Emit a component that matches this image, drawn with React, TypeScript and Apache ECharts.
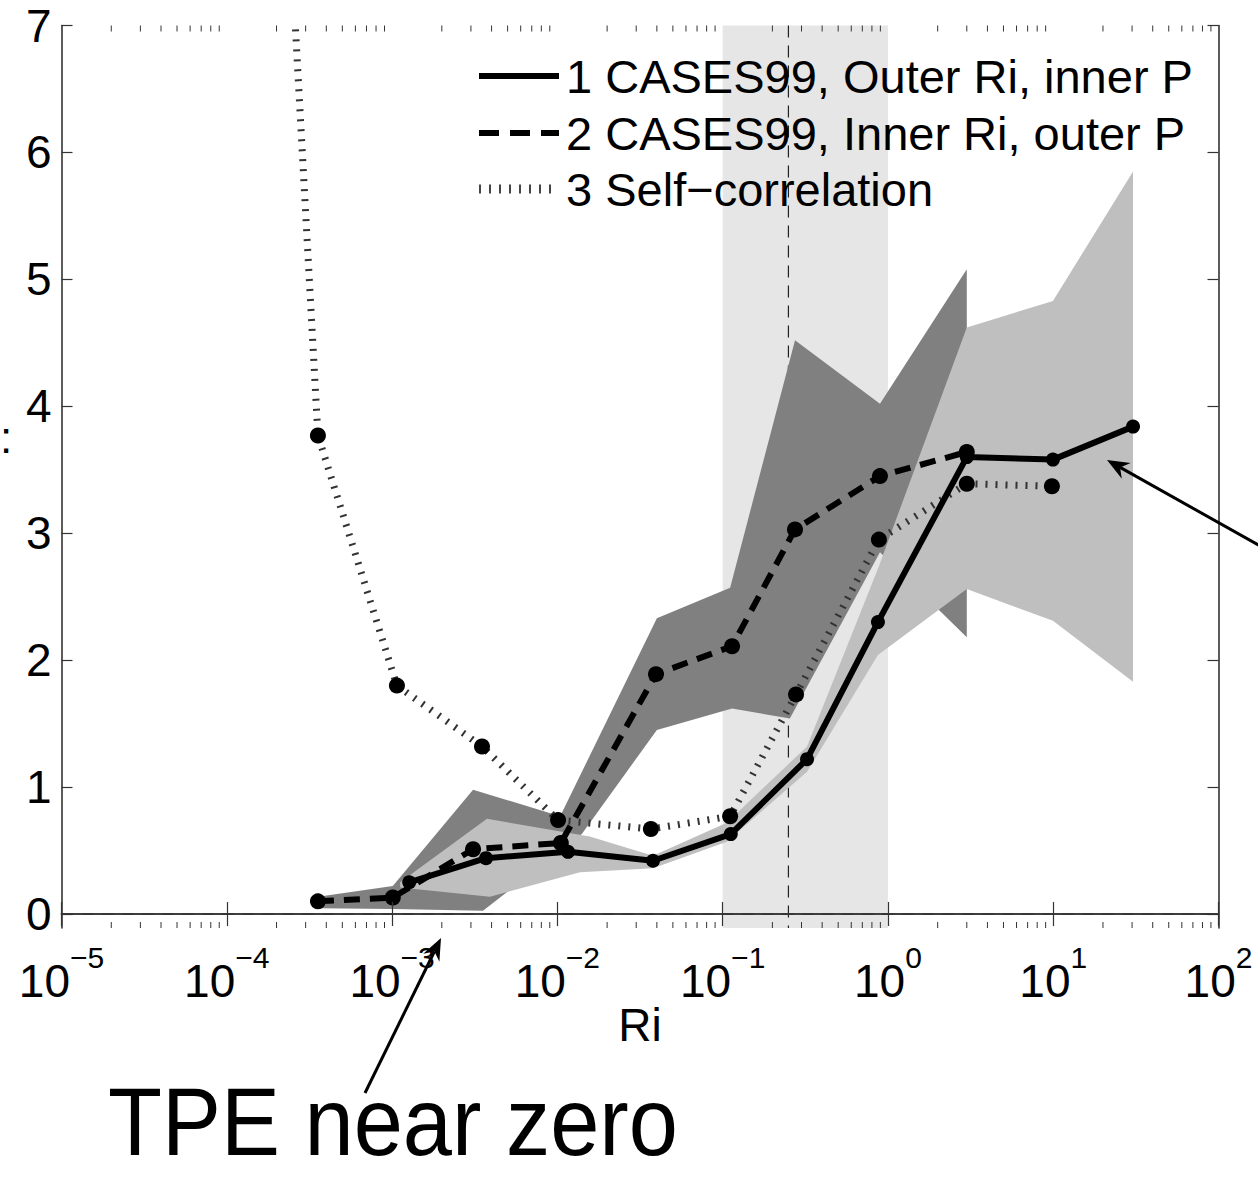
import React, { useEffect, useRef } from "react";
import * as echarts from "echarts";

const FONT = "'Liberation Sans', Arial, Helvetica, sans-serif";

// Axis settings
const xMin = 1e-5;
const xMax = 100;
const yMin = -0.11;
const yMax = 7;
const yTicks = [0, 1, 2, 3, 4, 5, 6, 7];

// Series 1: CASES99, Outer Ri, inner P (solid)
const riSolid = [1.27e-3, 3.7e-3, 1.16e-2, 3.79e-2, 0.112, 0.324, 0.87, 3.0, 9.96, 30.4];
const valSolid = [0.25, 0.44, 0.49, 0.42, 0.63, 1.22, 2.3, 3.6, 3.58, 3.84];

// Series 2: CASES99, Inner Ri, outer P (dashed)
const riDashed = [3.56e-4, 1.01e-3, 3.09e-3, 1.05e-2, 3.95e-2, 0.114, 0.274, 0.895, 3.0];
const valDashed = [0.1, 0.13, 0.51, 0.56, 1.89, 2.11, 3.03, 3.45, 3.64];

// Series 3: Self-correlation (dotted)
const riDotted = [2.2e-4, 3.56e-4, 1.07e-3, 3.5e-3, 1.01e-2, 3.68e-2, 0.111, 0.278, 0.882, 3.0, 9.82];
const valDotted = [8.7, 3.77, 1.8, 1.32, 0.74, 0.67, 0.77, 1.73, 2.95, 3.39, 3.37];

// Dark band (range of series 2)
const darkUpRi = [3.56e-4, 1.01e-3, 3.09e-3, 1.04e-2, 4.0e-2, 0.111, 0.274, 0.895, 3.0];
const darkUpVal = [0.136, 0.22, 0.98, 0.77, 2.33, 2.57, 4.52, 4.02, 5.08];
const darkLoRi = [3.56e-4, 1.01e-3, 3.55e-3, 1.41e-2, 4.0e-2, 0.114, 0.255, 0.895, 3.0];
const darkLoVal = [0.045, 0.04, 0.026, 0.633, 1.45, 1.62, 1.54, 2.85, 2.18];

// Light band (range of series 1)
const lightUpRi = [1.12e-3, 3.75e-3, 1.57e-2, 3.79e-2, 0.106, 0.324, 0.87, 3.0, 9.96, 30.4];
const lightUpVal = [0.25, 0.75, 0.61, 0.46, 0.72, 1.32, 2.72, 4.62, 4.83, 5.85];
const lightLoRi = [1.12e-3, 3.91e-3, 1.37e-2, 3.79e-2, 0.106, 0.324, 0.87, 3.0, 9.96, 30.4];
const lightLoVal = [0.21, 0.136, 0.33, 0.36, 0.57, 1.12, 2.04, 2.56, 2.31, 1.83];

// Shaded Ri range and reference lines
const shadeRi = [0.1, 1];
const refRi = 0.25;
const refVal = 0;

const legendNames = [
  "1 CASES99, Outer Ri, inner P",
  "2 CASES99, Inner Ri, outer P",
  "3 Self\u2212correlation",
];

function pairs(xs: number[], ys: number[]) {
  return xs.map((x, i) => [x, ys[i]]);
}

export default function App() {
  const ref = useRef<HTMLDivElement>(null);

  useEffect(() => {
    if (!ref.current) return;
    const chart = echarts.init(ref.current, undefined, { renderer: "svg" });

    const bandRender =
      (upX: number[], upY: number[], loX: number[], loY: number[], color: string) =>
      (_params: any, api: any) => {
        const pts: number[][] = [];
        upX.forEach((x, i) => pts.push(api.coord([x, upY[i]])));
        for (let i = loX.length - 1; i >= 0; i--) pts.push(api.coord([loX[i], loY[i]]));
        return { type: "polygon", shape: { points: pts }, style: { fill: color } };
      };

    const shadeRender = (_params: any, api: any) => {
      const a = api.coord([shadeRi[0], yMax]);
      const b = api.coord([shadeRi[1], yMin]);
      const v1 = api.coord([refRi, yMax]);
      const v2 = api.coord([refRi, yMin]);
      const h1 = api.coord([xMin, refVal]);
      const h2 = api.coord([xMax, refVal]);
      return {
        type: "group",
        children: [
          { type: "rect", shape: { x: a[0], y: a[1], width: b[0] - a[0], height: b[1] - a[1] }, style: { fill: "#e6e6e6" } },
          { type: "line", shape: { x1: v1[0], y1: v1[1], x2: v2[0], y2: v2[1] }, style: { stroke: "#222", lineWidth: 1.2, lineDash: [12, 8] } },
          { type: "line", shape: { x1: h1[0], y1: h1[1], x2: h2[0], y2: h2[1] }, style: { stroke: "#222", lineWidth: 1.2, lineDash: [12, 8] } },
        ],
      };
    };

    const minorRender = (_params: any, api: any) => {
      const children: any[] = [];
      for (let k = -5; k < 2; k++) {
        for (let m = 2; m <= 9; m++) {
          const v = m * Math.pow(10, k);
          const pb = api.coord([v, yMin]);
          const pt = api.coord([v, yMax]);
          children.push({ type: "line", shape: { x1: pb[0], y1: pb[1], x2: pb[0], y2: pb[1] - 6 }, style: { stroke: "#333", lineWidth: 1 } });
          children.push({ type: "line", shape: { x1: pt[0], y1: pt[1], x2: pt[0], y2: pt[1] + 6 }, style: { stroke: "#333", lineWidth: 1 } });
        }
      }
      return { type: "group", children };
    };

    const supLabel = (v: number) => {
      const e = Math.round(Math.log10(v));
      const s = e < 0 ? "\u2212" + Math.abs(e) : String(e);
      return "{b|10}{s|" + s + "}";
    };

    const xCommon: any = {
      type: "log",
      logBase: 10,
      min: xMin,
      max: xMax,
      z: 10,
      axisLine: { show: true, lineStyle: { color: "#333", width: 1.6 } },
      axisTick: { show: true, inside: true, length: 12, lineStyle: { color: "#333", width: 1.2 } },
      splitLine: { show: false },
      minorTick: { show: false },
    };
    const yCommon: any = {
      type: "value",
      min: yMin,
      max: yMax,
      z: 10,
      axisLine: { show: true, lineStyle: { color: "#333", width: 1.6 } },
      axisTick: { show: true, inside: true, length: 11, customValues: yTicks, lineStyle: { color: "#333", width: 1.2 } },
      splitLine: { show: false },
    };

    const lx1 = 479;
    const lx2 = 559;
    const ly = [76, 133, 189];

    chart.setOption({
      animation: false,
      backgroundColor: "#fff",
      grid: { left: 61.5, right: 39.5, top: 25.5, bottom: 250, containLabel: false, outerBoundsMode: "none" },
      xAxis: [
        {
          ...xCommon,
          position: "bottom",
          name: "Ri",
          nameLocation: "middle",
          nameGap: 74,
          nameMoveOverlap: false,
          nameTextStyle: { fontSize: 46, fontFamily: FONT, color: "#000" },
          axisLabel: {
            margin: 14,
            formatter: supLabel,
            rich: {
              b: { fontSize: 46, fontFamily: FONT, color: "#000", padding: [16, 0, 0, 0] },
              s: { fontSize: 30, fontFamily: FONT, color: "#000", padding: [0, 0, 32, 0] },
            },
          },
        },
        { ...xCommon, position: "top", axisLabel: { show: false } },
      ],
      yAxis: [
        {
          ...yCommon,
          position: "left",
          axisLabel: { customValues: yTicks, fontSize: 46, fontFamily: FONT, color: "#000", margin: 10 },
        },
        { ...yCommon, position: "right", axisLabel: { show: false } },
      ],
      series: [
        { type: "custom", name: "shade", z: 1, silent: true, data: [[1, 1]], renderItem: shadeRender },
        { type: "custom", name: "darkBand", z: 2, silent: true, data: [[1, 1]], renderItem: bandRender(darkUpRi, darkUpVal, darkLoRi, darkLoVal, "#808080") },
        { type: "custom", name: "lightBand", z: 3, silent: true, data: [[1, 1]], renderItem: bandRender(lightUpRi, lightUpVal, lightLoRi, lightLoVal, "#bfbfbf") },
        { type: "custom", name: "minorTicks", z: 11, silent: true, data: [[1, 1]], renderItem: minorRender },
        {
          type: "line",
          name: legendNames[2],
          z: 4,
          clip: true,
          silent: true,
          data: riDotted.map((x, i) => (i === 0 ? { value: [x, valDotted[i]], symbol: "none" } : [x, valDotted[i]])),
          symbol: "circle",
          symbolSize: 16,
          showAllSymbol: true,
          itemStyle: { color: "#000" },
          lineStyle: { color: "#333", width: 7, type: [2, 8], cap: "butt" },
        },
        {
          type: "line",
          name: legendNames[1],
          z: 5,
          silent: true,
          data: pairs(riDashed, valDashed),
          symbol: "circle",
          symbolSize: 16,
          showAllSymbol: true,
          itemStyle: { color: "#000" },
          lineStyle: { color: "#000", width: 6, type: [16, 10], cap: "butt" },
        },
        {
          type: "line",
          name: legendNames[0],
          z: 6,
          silent: true,
          data: pairs(riSolid, valSolid),
          symbol: "circle",
          symbolSize: 14,
          showAllSymbol: true,
          itemStyle: { color: "#000" },
          lineStyle: { color: "#000", width: 6 },
        },
      ],
      graphic: [
        { type: "line", z: 100, shape: { x1: lx1, y1: ly[0], x2: lx2, y2: ly[0] }, style: { stroke: "#000", lineWidth: 6 } },
        { type: "line", z: 100, shape: { x1: lx1, y1: ly[1], x2: lx2, y2: ly[1] }, style: { stroke: "#000", lineWidth: 6, lineDash: [20, 11] } },
        { type: "line", z: 100, shape: { x1: lx1, y1: ly[2], x2: lx2 - 8, y2: ly[2] }, style: { stroke: "#444", lineWidth: 9, lineDash: [2, 8] } },
        ...legendNames.map((t, i) => ({
          type: "text",
          z: 100,
          x: 566,
          y: ly[i],
          style: { text: t, fontSize: 47, fontFamily: FONT, fill: "#000", align: "left", verticalAlign: "middle" },
        })),
        // annotation arrow 1
        { type: "line", z: 100, shape: { x1: 365, y1: 1093, x2: 434.4, y2: 951.5 }, style: { stroke: "#000", lineWidth: 3 } },
        { type: "polygon", z: 100, shape: { points: [[441, 938], [439.4, 961.8], [434.4, 951.5], [423.2, 953.8]] }, style: { fill: "#000" } },
        // annotation arrow 2
        { type: "line", z: 100, shape: { x1: 1262, y1: 547, x2: 1120.1, y2: 467.4 }, style: { stroke: "#000", lineWidth: 3 } },
        { type: "polygon", z: 100, shape: { points: [[1107, 460], [1130.6, 462.9], [1120.1, 467.4], [1121.8, 478.7]] }, style: { fill: "#000" } },
        {
          type: "text",
          z: 100,
          x: 108,
          y: 1122,
          scaleX: 0.921,
          style: { text: "TPE near zero", fontSize: 96, fontFamily: FONT, fill: "#000", align: "left", verticalAlign: "middle" },
        },
        { type: "text", z: 100, x: 0, y: 437, style: { text: ":", fontSize: 44, fontFamily: FONT, fill: "#000", verticalAlign: "middle" } },
      ],
    });

    return () => chart.dispose();
  }, []);

  return (
    <div
      ref={ref}
      style={{ position: "fixed", left: 0, top: 0, width: 1258, height: 1178, background: "#fff" }}
    />
  );
}
